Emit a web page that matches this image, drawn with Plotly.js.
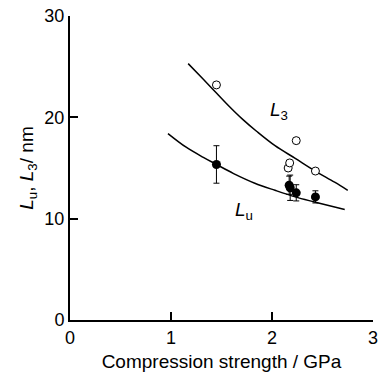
<!DOCTYPE html>
<html>
<head>
<meta charset="utf-8">
<script src="https://cdn.plot.ly/plotly-3.0.1.min.js"></script>
<style>
html,body{margin:0;padding:0;background:#fff;}
#chart{width:379px;height:376px;}
</style>
</head>
<body>
<div id="chart"></div>
<script>
// Measured points
const l3X = [1.45, 2.16, 2.175, 2.24, 2.43];
const l3Y = [23.2, 15.0, 15.5, 17.7, 14.7];
const luX = [1.45, 2.17, 2.18, 2.24, 2.43];
const luY = [15.35, 13.3, 13.05, 12.55, 12.15];
const luErr = [1.85, 0.9, 1.25, 0.8, 0.6];

// Fitted curves
const l3FitX = [1.17, 1.32, 1.45, 1.58, 1.71, 1.85, 2.03, 2.23, 2.42, 2.62, 2.75];
const l3FitY = [25.3, 23.75, 22.4, 21.05, 19.8, 18.6, 17.2, 15.95, 14.75, 13.6, 12.8];
const luFitX = [0.97, 1.15, 1.32, 1.45, 1.62, 1.83, 2.03, 2.23, 2.42, 2.72];
const luFitY = [18.4, 17.05, 16.05, 15.35, 14.45, 13.5, 12.8, 12.15, 11.65, 10.9];

const xTicks = [0, 1, 2, 3];
const yTicks = [0, 10, 20, 30];

const FONT = 'Liberation Sans, Arial, sans-serif';

const traces = [
  {x: l3FitX, y: l3FitY, mode: 'lines', line: {color: '#000', width: 1.5, shape: 'spline'}, hoverinfo: 'skip'},
  {x: luFitX, y: luFitY, mode: 'lines', line: {color: '#000', width: 1.5, shape: 'spline'}, hoverinfo: 'skip'},
  {x: l3X, y: l3Y, mode: 'markers',
   marker: {symbol: 'circle', size: 8, color: '#fff', line: {color: '#000', width: 1}}},
  {x: luX, y: luY, mode: 'markers',
   error_y: {type: 'data', array: luErr, visible: true, color: '#000', thickness: 1, width: 3},
   marker: {symbol: 'circle', size: 9, color: '#000'}}
];

const layout = {
  width: 379, height: 376,
  margin: {l: 70, r: 6, t: 16, b: 56},
  paper_bgcolor: '#fff', plot_bgcolor: '#fff',
  showlegend: false,
  font: {family: FONT, size: 18, color: '#000'},
  xaxis: {
    range: [0, 3], tickvals: xTicks, ticktext: xTicks.map(String),
    showgrid: false, zeroline: false, showline: true, linecolor: '#000', linewidth: 2,
    ticks: 'inside', ticklen: 8, tickwidth: 2, tickcolor: '#000',
    tickfont: {family: FONT, size: 18},
    title: {text: 'Compression strength / GPa', font: {family: FONT, size: 19}, standoff: 8}
  },
  yaxis: {
    range: [0, 30], tickvals: yTicks, ticktext: yTicks.map(String),
    showgrid: false, zeroline: false, showline: true, linecolor: '#000', linewidth: 2,
    ticks: 'inside', ticklen: 8, tickwidth: 2, tickcolor: '#000',
    tickfont: {family: FONT, size: 18},
    title: {text: '<i>L</i><sub>u</sub>, <i>L</i><sub>3</sub>/ nm', font: {family: FONT, size: 19}, standoff: 6}
  },
  annotations: [
    {x: 2.07, y: 20.6, xref: 'x', yref: 'y', text: '<i>L</i><sub>3</sub>', showarrow: false,
     font: {family: FONT, size: 19, color: '#000'}},
    {x: 1.72, y: 10.8, xref: 'x', yref: 'y', text: '<i>L</i><sub>u</sub>', showarrow: false,
     font: {family: FONT, size: 19, color: '#000'}}
  ]
};

Plotly.newPlot('chart', traces, layout, {staticPlot: true, displayModeBar: false});
</script>
</body>
</html>
